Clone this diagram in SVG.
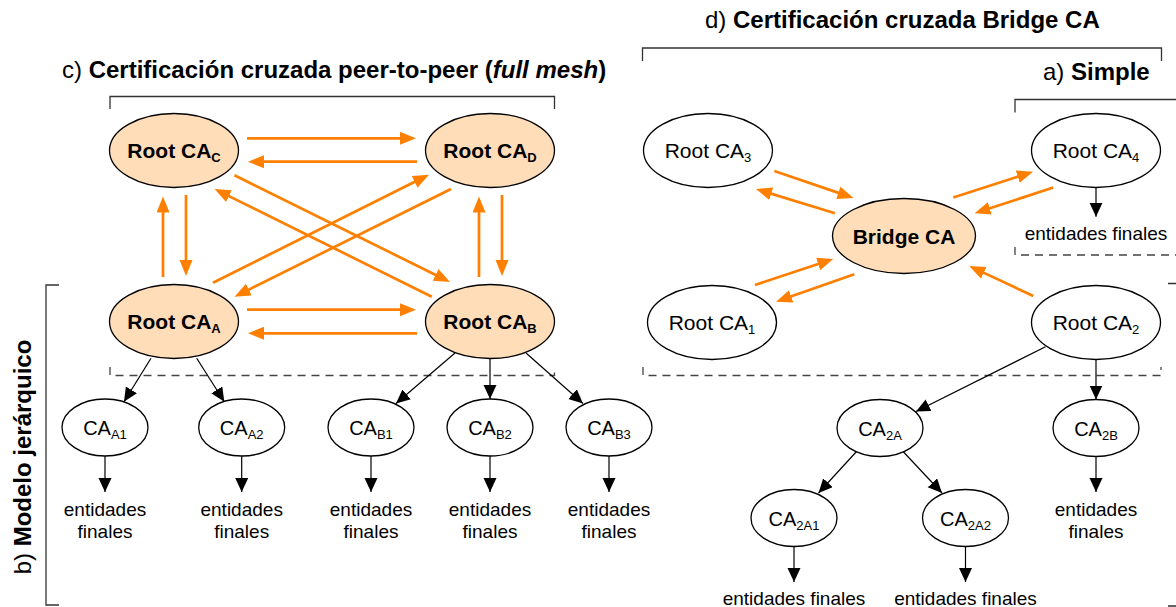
<svg xmlns="http://www.w3.org/2000/svg" width="1176" height="607" viewBox="0 0 1176 607">
<style>
text{font-family:"Liberation Sans",Arial,sans-serif;fill:#000}
.title{font-size:24px}
.b{font-weight:bold}
.root{fill:#FFDDB9;stroke:#000;stroke-width:1.3}
.plain{fill:#fff;stroke:#000;stroke-width:1.3}
.rt{font-size:21px}
.ca{font-size:20px}
.sub{font-size:13px}
.ef{font-size:19px}
.or{stroke:#FF8000;stroke-width:2.7;fill:none;marker-end:url(#ho)}
.bk{stroke:#000;stroke-width:1.2;fill:none;marker-end:url(#hb)}
.br{stroke:#333;stroke-width:1.3;fill:none}
.da{stroke:#444;stroke-width:1.3;fill:none;stroke-dasharray:8 6}
</style>
<defs>
<marker id="ho" markerUnits="userSpaceOnUse" markerWidth="17" markerHeight="14" refX="8" refY="6.5" orient="auto"><path d="M0,0 L16,6.5 L0,13 z" fill="#FF8000"/></marker>
<marker id="hb" markerUnits="userSpaceOnUse" markerWidth="15" markerHeight="14" refX="14" refY="6.5" orient="auto"><path d="M0,0 L14,6.5 L0,13 z" fill="#000"/></marker>
</defs>

<g id="titles">
<text class="title" x="62" y="78">c) <tspan class="b">Certificación cruzada peer-to-peer (</tspan><tspan class="b" font-style="italic">full mesh</tspan><tspan class="b">)</tspan></text>
<text class="title" x="705" y="28">d) <tspan class="b">Certificación cruzada Bridge CA</tspan></text>
<text class="title" x="1043" y="80">a) <tspan class="b">Simple</tspan></text>
<text class="title" transform="translate(31,457) rotate(-90)" text-anchor="middle">b) <tspan class="b">Modelo jerárquico</tspan></text>
</g>

<g id="brackets">
<path class="br" d="M110,109 V96.5 H554.5 V109"/>
<path class="br" d="M642.5,61 V48 H1161.5 V61"/>
<path class="br" d="M1015,112.5 V99.5 H1176"/>
<path class="br" d="M59,285 H46 V605 H59"/>
<path class="br" d="M1168,283.5 H1176 M1168,606 H1176"/>
<path class="da" d="M110,367 V375.5 H554.5 V367"/>
<path class="da" d="M643,367 V375.5 H1161 V367"/>
<path class="da" d="M1015,247 V255 H1176"/>
</g>

<g id="connectors">
<line class="or" x1="247" y1="138.3" x2="408" y2="138.3"/>
<line class="or" x1="417" y1="161.7" x2="256" y2="161.7"/>
<line class="or" x1="247" y1="309.7" x2="408" y2="309.7"/>
<line class="or" x1="417" y1="333.3" x2="256" y2="333.3"/>
<line class="or" x1="163" y1="277" x2="163" y2="204.5"/>
<line class="or" x1="186" y1="195" x2="186" y2="268"/>
<line class="or" x1="479" y1="277" x2="479" y2="204.5"/>
<line class="or" x1="502" y1="195" x2="502" y2="268"/>
<line class="or" x1="234.5" y1="175.3" x2="442.8" y2="278.5"/>
<line class="or" x1="431.8" y1="296.7" x2="221.8" y2="192.6"/>
<line class="or" x1="213" y1="282.7" x2="421.8" y2="178.3"/>
<line class="or" x1="451" y1="189" x2="241.7" y2="293.1"/>

<line class="or" x1="774.3" y1="171" x2="845.9" y2="195.4"/>
<line class="or" x1="835" y1="213.3" x2="763.6" y2="191.4"/>
<line class="or" x1="953.3" y1="197.5" x2="1025.4" y2="174.2"/>
<line class="or" x1="1053.3" y1="187.5" x2="982.2" y2="210.8"/>
<line class="or" x1="755" y1="285" x2="825.7" y2="261.5"/>
<line class="or" x1="854.3" y1="274.3" x2="783.6" y2="299.1"/>
<line class="or" x1="1033.3" y1="296" x2="976.5" y2="269.4"/>

<line class="bk" x1="151" y1="358.3" x2="124" y2="401.7"/>
<line class="bk" x1="196.7" y1="358.3" x2="224.3" y2="401.7"/>
<line class="bk" x1="455" y1="353" x2="396" y2="403.5"/>
<line class="bk" x1="490" y1="358.5" x2="490" y2="399"/>
<line class="bk" x1="526" y1="353" x2="583" y2="403.5"/>
<line class="bk" x1="105" y1="456" x2="105" y2="492"/>
<line class="bk" x1="241.7" y1="456" x2="241.7" y2="492"/>
<line class="bk" x1="371" y1="456" x2="371" y2="492"/>
<line class="bk" x1="490" y1="456" x2="490" y2="492" stroke-width="1.8"/>
<line class="bk" x1="609" y1="456" x2="609" y2="492"/>
<line class="bk" x1="1096" y1="187.5" x2="1096" y2="216.7"/>
<line class="bk" x1="1045.5" y1="346.7" x2="916" y2="411.5"/>
<line class="bk" x1="1096" y1="359.5" x2="1096" y2="399.5"/>
<line class="bk" x1="857" y1="451" x2="818.5" y2="493"/>
<line class="bk" x1="902.6" y1="451" x2="942" y2="493"/>
<line class="bk" x1="794" y1="546.5" x2="794" y2="582"/>
<line class="bk" x1="965.5" y1="546.5" x2="965.5" y2="582"/>
<line class="bk" x1="1096" y1="456.5" x2="1096" y2="492"/>
</g>

<g id="rootC"><ellipse class="root" cx="174" cy="150.5" rx="64.5" ry="37"/><text class="rt b" x="174" y="158" text-anchor="middle">Root CA<tspan class="sub" dy="4">C</tspan></text></g>
<g id="rootD"><ellipse class="root" cx="490" cy="150.5" rx="64.5" ry="37"/><text class="rt b" x="490" y="158" text-anchor="middle">Root CA<tspan class="sub" dy="4">D</tspan></text></g>
<g id="rootA"><ellipse class="root" cx="174" cy="321.5" rx="64.5" ry="37"/><text class="rt b" x="174" y="329" text-anchor="middle">Root CA<tspan class="sub" dy="4">A</tspan></text></g>
<g id="rootB"><ellipse class="root" cx="490" cy="321.5" rx="64.5" ry="37"/><text class="rt b" x="490" y="329" text-anchor="middle">Root CA<tspan class="sub" dy="4">B</tspan></text></g>

<g id="caA1"><ellipse class="plain" cx="105" cy="427.5" rx="43" ry="28.5"/><text class="ca" x="105" y="435" text-anchor="middle">CA<tspan class="sub" dy="4">A1</tspan></text></g>
<g id="caA2"><ellipse class="plain" cx="241.7" cy="427.5" rx="43" ry="28.5"/><text class="ca" x="241.7" y="435" text-anchor="middle">CA<tspan class="sub" dy="4">A2</tspan></text></g>
<g id="caB1"><ellipse class="plain" cx="371" cy="427.5" rx="43" ry="28.5"/><text class="ca" x="371" y="435" text-anchor="middle">CA<tspan class="sub" dy="4">B1</tspan></text></g>
<g id="caB2"><ellipse class="plain" cx="490" cy="427.5" rx="43" ry="28.5"/><text class="ca" x="490" y="435" text-anchor="middle">CA<tspan class="sub" dy="4">B2</tspan></text></g>
<g id="caB3"><ellipse class="plain" cx="609" cy="427.5" rx="43" ry="28.5"/><text class="ca" x="609" y="435" text-anchor="middle">CA<tspan class="sub" dy="4">B3</tspan></text></g>

<g id="efLeft">
<text class="ef" text-anchor="middle"><tspan x="105" y="516">entidades</tspan><tspan x="105" y="538">finales</tspan></text>
<text class="ef" text-anchor="middle"><tspan x="241.7" y="516">entidades</tspan><tspan x="241.7" y="538">finales</tspan></text>
<text class="ef" text-anchor="middle"><tspan x="371" y="516">entidades</tspan><tspan x="371" y="538">finales</tspan></text>
<text class="ef" text-anchor="middle"><tspan x="490" y="516">entidades</tspan><tspan x="490" y="538">finales</tspan></text>
<text class="ef" text-anchor="middle"><tspan x="609" y="516">entidades</tspan><tspan x="609" y="538">finales</tspan></text>
</g>

<g id="bridge"><ellipse class="root" cx="904" cy="236" rx="71.5" ry="37.5"/><text class="rt b" x="904" y="243.5" text-anchor="middle">Bridge CA</text></g>
<g id="root3"><ellipse class="plain" cx="708" cy="150.5" rx="64.5" ry="37"/><text class="rt" x="708" y="158" text-anchor="middle">Root CA<tspan class="sub" dy="4">3</tspan></text></g>
<g id="root4"><ellipse class="plain" cx="1096" cy="150.5" rx="64.5" ry="37"/><text class="rt" x="1096" y="158" text-anchor="middle">Root CA<tspan class="sub" dy="4">4</tspan></text></g>
<g id="root1"><ellipse class="plain" cx="712" cy="322.5" rx="64.5" ry="37"/><text class="rt" x="712" y="330" text-anchor="middle">Root CA<tspan class="sub" dy="4">1</tspan></text></g>
<g id="root2"><ellipse class="plain" cx="1096" cy="322.5" rx="64.5" ry="37"/><text class="rt" x="1096" y="330" text-anchor="middle">Root CA<tspan class="sub" dy="4">2</tspan></text></g>

<g id="ca2A"><ellipse class="plain" cx="880" cy="428" rx="43" ry="28.5"/><text class="ca" x="880" y="435.5" text-anchor="middle">CA<tspan class="sub" dy="4">2A</tspan></text></g>
<g id="ca2B"><ellipse class="plain" cx="1096" cy="428" rx="43" ry="28.5"/><text class="ca" x="1096" y="435.5" text-anchor="middle">CA<tspan class="sub" dy="4">2B</tspan></text></g>
<g id="ca2A1"><ellipse class="plain" cx="794" cy="518" rx="43" ry="28.5"/><text class="ca" x="794" y="525.5" text-anchor="middle">CA<tspan class="sub" dy="4">2A1</tspan></text></g>
<g id="ca2A2"><ellipse class="plain" cx="965.5" cy="518" rx="43" ry="28.5"/><text class="ca" x="965.5" y="525.5" text-anchor="middle">CA<tspan class="sub" dy="4">2A2</tspan></text></g>

<g id="efRight">
<text class="ef" x="1096" y="240" text-anchor="middle">entidades finales</text>
<text class="ef" text-anchor="middle"><tspan x="1096" y="516">entidades</tspan><tspan x="1096" y="538">finales</tspan></text>
<text class="ef" x="794" y="605" text-anchor="middle">entidades finales</text>
<text class="ef" x="965.5" y="605" text-anchor="middle">entidades finales</text>
</g>
</svg>
